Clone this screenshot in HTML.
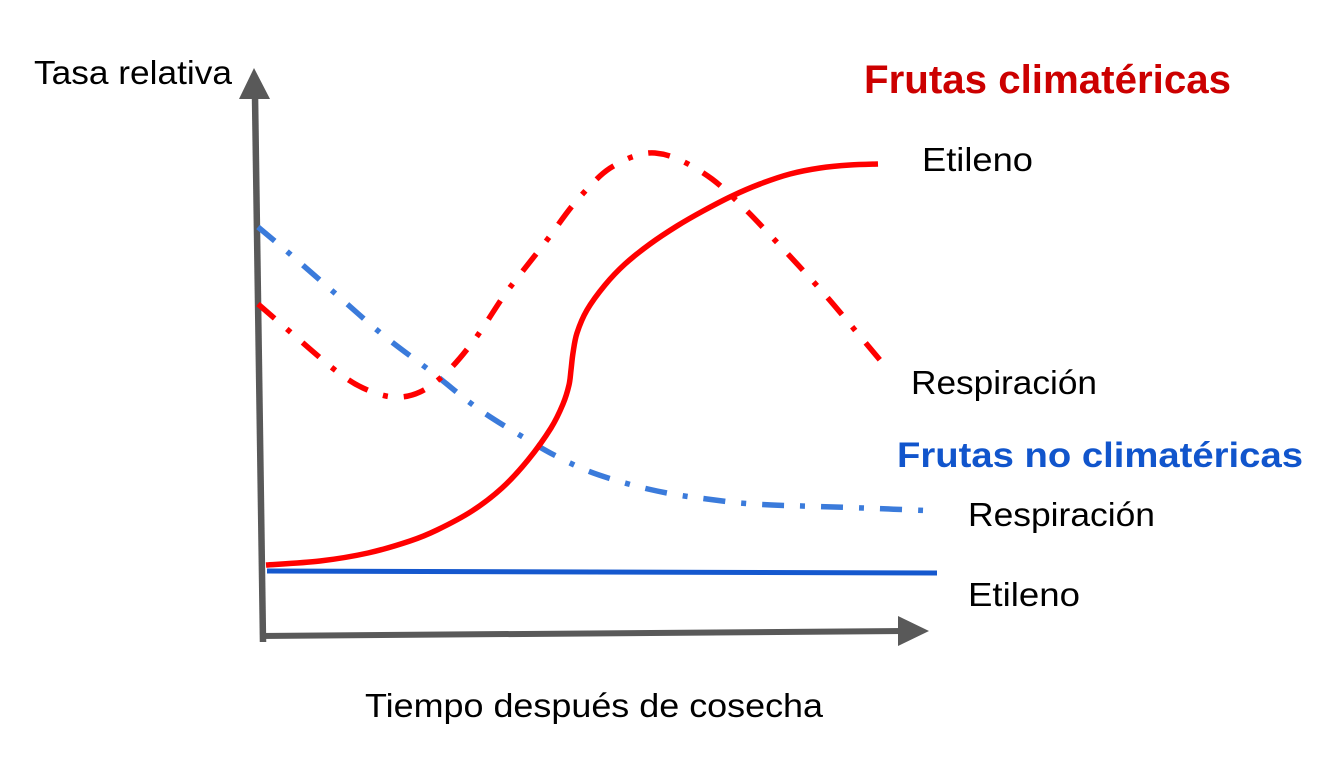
<!DOCTYPE html>
<html>
<head>
<meta charset="utf-8">
<style>
  html, body { margin: 0; padding: 0; background: #ffffff; }
  body { width: 1343px; height: 757px; overflow: hidden; }
  svg { display: block; }
  text { font-family: "Liberation Sans", "DejaVu Sans", sans-serif; }
</style>
</head>
<body>
<svg id="chart" width="1343" height="757" viewBox="0 0 1343 757" xmlns="http://www.w3.org/2000/svg">
  <rect x="0" y="0" width="1343" height="757" fill="#ffffff"/>

  <!-- Axes -->
  <line x1="255" y1="96" x2="263" y2="642" stroke="#595959" stroke-width="6.5"/>
  <polygon points="254,68 239,99 270,99" fill="#595959"/>
  <line x1="260" y1="636" x2="902" y2="631" stroke="#595959" stroke-width="6"/>
  <polygon points="929,631 898,616 898,646" fill="#595959"/>

  <!-- Blue solid: Etileno (no climatéricas) -->
  <line x1="267" y1="571" x2="937" y2="573" stroke="#1558CE" stroke-width="5"/>

  <!-- Blue dash-dot: Respiración (no climatéricas) -->
  <polyline class="smooth" fill="none" stroke="#3B7BDB" stroke-width="5.5" stroke-dasharray="22 16 5 16"
    points="258,227 290,254 337,295 383,335 433,373 480,410 533,443 560,458 588,471 618,481 648,489 678,495 707,499 740,503 772,505 802,506 863,508 937,511"/>

  <!-- Red dash-dot: Respiración (climatéricas) -->
  <polyline class="smooth" fill="none" stroke="#FF0000" stroke-width="5.5" stroke-dasharray="22 16 5 16" stroke-linejoin="round"
    points="258,304 295,336 335,370 363,388 393,397 420,392 447,372 475,339 503,297 522,272 547,240 573,205 600,176 617,164 635,156 655,153 680,160 712,179 743,207 771,236 799,266 827,297 854,329 880,360"/>

  <!-- Red solid: Etileno (climatéricas) -->
  <polyline class="smooth" fill="none" stroke="#FF0000" stroke-width="5.5" stroke-linejoin="round"
    points="266,565 320,561 368,553 410,541 437,530 472,511 502,488 528,460 551,428 563,404 569,385 571,370 573,353 577,333 587,310 605,285 625,264 650,244 677,226 703,211 732,196 760,184 790,174 820,168 850,165 878,164"/>

  <!-- Labels -->
  <text x="34" y="84" font-size="33" fill="#000000" textLength="198" lengthAdjust="spacingAndGlyphs">Tasa relativa</text>
  <text x="365" y="717" font-size="33" fill="#000000" textLength="458" lengthAdjust="spacingAndGlyphs">Tiempo después de cosecha</text>

  <text x="864" y="93" font-size="40" font-weight="bold" fill="#CC0000" textLength="367" lengthAdjust="spacingAndGlyphs">Frutas climatéricas</text>
  <text x="922" y="171" font-size="33" fill="#000000" textLength="111" lengthAdjust="spacingAndGlyphs">Etileno</text>
  <text x="911" y="394" font-size="33" fill="#000000" textLength="186" lengthAdjust="spacingAndGlyphs">Respiración</text>

  <text x="897" y="467" font-size="35" font-weight="bold" fill="#1155CC" textLength="406" lengthAdjust="spacingAndGlyphs">Frutas no climatéricas</text>
  <text x="968" y="526" font-size="33" fill="#000000" textLength="187" lengthAdjust="spacingAndGlyphs">Respiración</text>
  <text x="968" y="606" font-size="33" fill="#000000" textLength="112" lengthAdjust="spacingAndGlyphs">Etileno</text>
</svg>
<script>
(function () {
  var NS = "http://www.w3.org/2000/svg";
  var lines = document.querySelectorAll("polyline.smooth");
  for (var k = 0; k < lines.length; k++) {
    var pl = lines[k];
    var raw = pl.getAttribute("points").trim().split(/\s+/);
    var p = raw.map(function (s) { var a = s.split(","); return [parseFloat(a[0]), parseFloat(a[1])]; });
    var n = p.length;
    var d = "M" + p[0][0] + "," + p[0][1];
    for (var i = 0; i < n - 1; i++) {
      var p0 = p[i > 0 ? i - 1 : i], p1 = p[i], p2 = p[i + 1], p3 = p[i + 2 < n ? i + 2 : i + 1];
      var c1x = p1[0] + (p2[0] - p0[0]) / 6, c1y = p1[1] + (p2[1] - p0[1]) / 6;
      var c2x = p2[0] - (p3[0] - p1[0]) / 6, c2y = p2[1] - (p3[1] - p1[1]) / 6;
      d += " C" + c1x.toFixed(2) + "," + c1y.toFixed(2) + " " + c2x.toFixed(2) + "," + c2y.toFixed(2) + " " + p2[0] + "," + p2[1];
    }
    var path = document.createElementNS(NS, "path");
    var attrs = ["fill", "stroke", "stroke-width", "stroke-dasharray", "stroke-linejoin"];
    for (var j = 0; j < attrs.length; j++) {
      var v = pl.getAttribute(attrs[j]);
      if (v !== null) path.setAttribute(attrs[j], v);
    }
    path.setAttribute("d", d);
    pl.parentNode.replaceChild(path, pl);
  }
})();
</script>
</body>
</html>
